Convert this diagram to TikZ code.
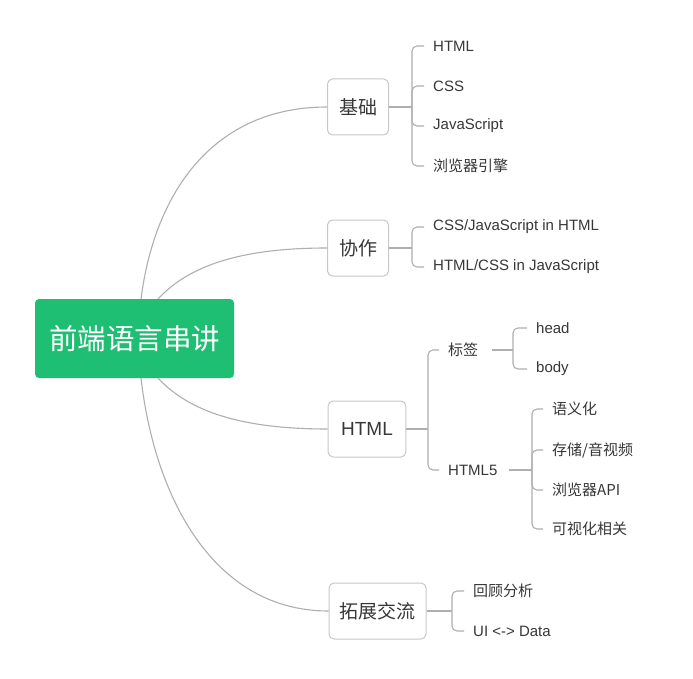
\documentclass[tikz,border=0pt]{standalone}
\usepackage{fontspec}
\setmainfont{Liberation Sans}
\newfontfamily\cjk{Noto Sans CJK SC}
\definecolor{rootgreen}{RGB}{30,190,115}
\definecolor{linkgray}{RGB}{175,175,175}
\definecolor{boxgray}{RGB}{200,200,200}
\definecolor{txt}{RGB}{55,55,55}
\begin{document}
\begin{tikzpicture}[x=1pt,y=-1pt,
  rootbox/.style={fill=rootgreen,rounded corners=4pt,text=white,font=\cjk\fontsize{28.5}{31}\selectfont,minimum height=79pt,minimum width=199pt,inner sep=0pt},
  topicbox/.style={draw=boxgray,line width=1pt,fill=white,rounded corners=5pt,text=txt,font=\fontsize{19}{22}\selectfont,minimum height=56pt,inner xsep=11.5pt},
  leaf/.style={anchor=west,text=txt,font=\fontsize{15}{18}\selectfont,inner xsep=9pt,inner ysep=2pt},
  link/.style={draw=linkgray,line width=1.1pt},
  brk/.style={link,rounded corners=5pt}]
\useasboundingbox (0,0) rectangle (693,679);
\fill[white] (0,0) rectangle (693,679);

% root and topics
\node[rootbox] (root) at (134.5,338.5) {前端语言串讲};
\node[topicbox] (jc) at (358,107) {\cjk 基础};
\node[topicbox] (xz) at (358,248) {\cjk 协作};
\node[topicbox,inner xsep=13pt] (html) at (367,429) {HTML};
\node[topicbox,inner xsep=10.5pt] (tz) at (377.5,611) {\cjk 拓展交流};

\coordinate (rt1) at (141,299);
\coordinate (rt2) at (158,299);
\coordinate (rb1) at (158,378);
\coordinate (rb2) at (141,378);

\draw[link] (rt1) .. controls (155,190) and (215,107) .. (jc.west);
\draw[link] (rt2) .. controls (192,262) and (250,248) .. (xz.west);
\draw[link] (rb1) .. controls (192,415) and (250,429) .. (html.west);
\draw[link] (rb2) .. controls (155,500) and (215,611) .. (tz.west);

% 基础 children
\node[leaf] (c1) at (424,46) {HTML};
\node[leaf] (c2) at (424,86) {CSS};
\node[leaf] (c3) at (424,126) {JavaScript};
\node[leaf] (c4) at (424,166) {\cjk 浏览器引擎};
\coordinate (jb) at (412,107);
\draw[link] (jc.east) -- (jb);
\foreach \c in {c1,c2,c3,c4} \draw[brk] (jb) |- (\c.west);

% 协作 children
\node[leaf] (d1) at (424,227) {CSS/JavaScript in HTML};
\node[leaf] (d2) at (424,267) {HTML/CSS in JavaScript};
\coordinate (xb) at (412,248);
\draw[link] (xz.east) -- (xb);
\foreach \c in {d1,d2} \draw[brk] (xb) |- (\c.west);

% HTML children
\node[leaf] (bq) at (439,350) {\cjk 标签};
\node[leaf] (h5) at (439,470) {HTML5};
\coordinate (hb) at (428,429);
\draw[link] (html.east) -- (hb);
\foreach \c in {bq,h5} \draw[brk] (hb) |- (\c.west);

% 标签 children
\node[leaf] (e1) at (527,328) {head};
\node[leaf] (e2) at (527,369) {body};
\coordinate (bb) at (513,350);
\draw[link,shorten <=5pt] (bq.east) -- (bb);
\foreach \c in {e1,e2} \draw[brk] (bb) |- (\c.west);

% HTML5 children
\node[leaf] (f1) at (543,409) {\cjk 语义化};
\node[leaf] (f2) at (543,450) {\cjk 存储/音视频};
\node[leaf] (f3) at (543,490) {\cjk 浏览器API};
\node[leaf] (f4) at (543,529) {\cjk 可视化相关};
\coordinate (fb) at (532,470);
\draw[link,shorten <=2pt] (h5.east) -- (fb);
\foreach \c in {f1,f2,f3,f4} \draw[brk] (fb) |- (\c.west);

% 拓展交流 children
\node[leaf] (g1) at (464,591) {\cjk 回顾分析};
\node[leaf] (g2) at (464,631) {UI <-> Data};
\coordinate (tb) at (452,611);
\draw[link] (tz.east) -- (tb);
\foreach \c in {g1,g2} \draw[brk] (tb) |- (\c.west);
\end{tikzpicture}
\end{document}
